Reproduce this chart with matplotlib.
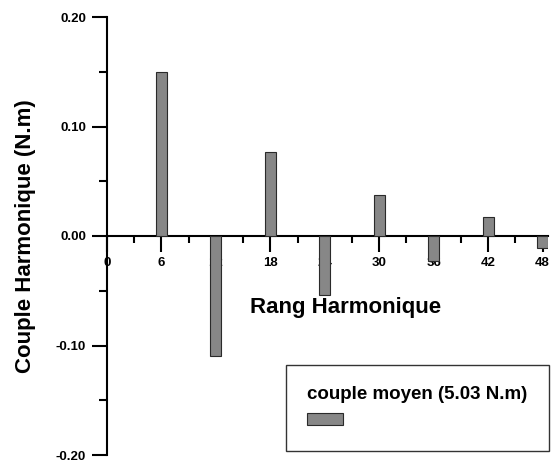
import matplotlib
matplotlib.use("Agg")
import matplotlib.pyplot as plt
from matplotlib.ticker import MultipleLocator

# Data
harmonic_rank = [6, 12, 18, 24, 30, 36, 42, 48]
harmonic_torque = [0.150, -0.110, 0.077, -0.054, 0.037, -0.0225, 0.017, -0.0113]
x_ticks = [0, 6, 12, 18, 24, 30, 36, 42, 48]
y_ticks = [-0.20, -0.10, 0.00, 0.10, 0.20]
y_tick_labels = ["-0.20", "-0.10", "0.00", "0.10", "0.20"]
legend_title = "couple moyen (5.03 N.m)"
x_label = "Rang Harmonique"
y_label = "Couple Harmonique (N.m)"

plt.rcParams['font.family'] = ['Liberation Sans', 'DejaVu Sans']

fig = plt.figure(figsize=(5.51, 4.63), dpi=100)
ax = fig.add_axes([107/551, 8/463, 441/551, 438/463])

bars = ax.bar(harmonic_rank, harmonic_torque, width=1.2, color='#878787',
              edgecolor='#2a2a2a', linewidth=0.8, zorder=3)

ax.set_xlim(0, 48.6)
ax.set_ylim(-0.20, 0.20)

for s in ['top', 'right']:
    ax.spines[s].set_visible(False)
ax.spines['bottom'].set_position(('data', 0))
ax.spines['bottom'].set_linewidth(1.5)
ax.spines['left'].set_linewidth(1.5)
ax.spines['bottom'].set_zorder(2.6)

ax.set_xticks(x_ticks)
ax.set_xticklabels([str(v) for v in x_ticks])
ax.xaxis.set_minor_locator(MultipleLocator(3))
ax.set_yticks(y_ticks)
ax.set_yticklabels(y_tick_labels)
ax.yaxis.set_minor_locator(MultipleLocator(0.05))

ax.tick_params(axis='x', which='major', direction='out', length=11.5, width=1.5,
               labelsize=9.5, pad=3.5)
ax.tick_params(axis='x', which='minor', direction='out', length=5, width=1.5)
ax.tick_params(axis='y', which='major', direction='out', length=11, width=1.5,
               labelsize=9.5, pad=4)
ax.tick_params(axis='y', which='minor', direction='out', length=6, width=1.5)
for lab in ax.get_xticklabels() + ax.get_yticklabels():
    lab.set_fontweight('bold')

ax.set_xlabel(x_label, fontsize=16, fontweight='bold')
ax.xaxis.set_label_coords((345.5 - 107) / 441, (455 - 308) / 438)
ax.xaxis.label.set_va('center')
ax.set_ylabel(y_label, fontsize=16, fontweight='bold')
ax.yaxis.set_label_coords((26 - 107) / 441, 0.5)
ax.yaxis.label.set_va('center')

leg = ax.legend([bars], [''], title=legend_title, loc='lower right',
                bbox_to_anchor=(549/551, 12/463), bbox_transform=fig.transFigure,
                frameon=True, fancybox=False, edgecolor='black',
                fontsize=13.5, handlelength=1.9, handleheight=0.64,
                borderpad=1.15, borderaxespad=0, alignment='left',
                title_fontproperties={'weight': 'bold', 'size': 13.5})
leg.get_frame().set_linewidth(1.0)

fig.savefig("out.png", dpi=100)
